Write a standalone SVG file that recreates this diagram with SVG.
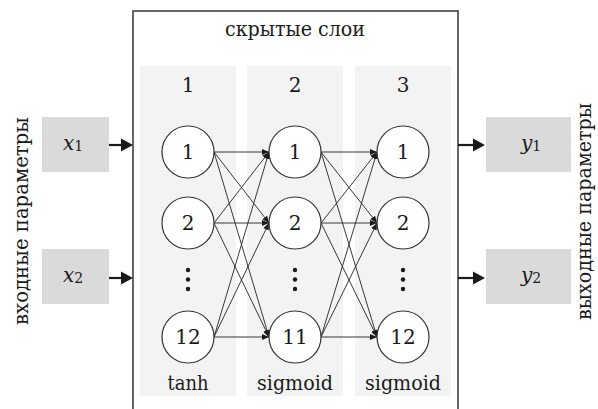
<svg xmlns="http://www.w3.org/2000/svg" width="598" height="409" viewBox="0 0 598 409" font-family="'DejaVu Serif', serif">
<defs>
<style>
text{font-family:'DejaVu Serif',serif;fill:#1a1a1a;}
.t{font-size:20px;text-anchor:middle;}
.lg{font-size:21px;text-anchor:middle;}
.io{fill:#dadada;}
.col{fill:#f3f3f3;}
.node circle{fill:#fff;stroke:#333;stroke-width:1.2;}
.node text{font-size:20px;text-anchor:middle;}
.conn line{stroke:#222;stroke-width:0.9;marker-end:url(#ah);}
.big{stroke:#1a1a1a;stroke-width:2.2;}
.var{font-size:20px;font-style:italic;}
.sub{font-size:14px;font-style:normal;}
</style>
<marker id="ah" markerUnits="userSpaceOnUse" markerWidth="8" markerHeight="6" refX="7" refY="3" orient="auto">
<path d="M0,0 L7,3 L0,6 Z" fill="#1a1a1a"/>
</marker>
</defs>
<rect width="598" height="409" fill="#fff"/>
<g id="hidden-box">
<rect x="133" y="11" width="325" height="410" fill="#fff" stroke="#333" stroke-width="1.5"/>
<text class="lg" x="295" y="36" textLength="140" lengthAdjust="spacingAndGlyphs">скрытые слои</text>
</g>
<g id="layer1">
<rect class="col" x="140" y="66" width="96" height="330"/>
<text class="t" x="188" y="92">1</text>
<text class="t" x="188" y="390" textLength="41" lengthAdjust="spacingAndGlyphs">tanh</text>
</g>
<g id="layer2">
<rect class="col" x="247" y="66" width="96" height="330"/>
<text class="t" x="295" y="92">2</text>
<text class="t" x="295" y="390" textLength="76" lengthAdjust="spacingAndGlyphs">sigmoid</text>
</g>
<g id="layer3">
<rect class="col" x="355" y="66" width="96" height="330"/>
<text class="t" x="403" y="92">3</text>
<text class="t" x="403" y="390" textLength="76" lengthAdjust="spacingAndGlyphs">sigmoid</text>
</g>
<g id="connectors" class="conn">
<line x1="214" y1="152" x2="269" y2="152"/>
<line x1="214" y1="152" x2="269" y2="223"/>
<line x1="214" y1="152" x2="269" y2="337"/>
<line x1="214" y1="223" x2="269" y2="152"/>
<line x1="214" y1="223" x2="269" y2="223"/>
<line x1="214" y1="223" x2="269" y2="337"/>
<line x1="214" y1="337" x2="269" y2="152"/>
<line x1="214" y1="337" x2="269" y2="223"/>
<line x1="214" y1="337" x2="269" y2="337"/>
<line x1="321" y1="152" x2="377" y2="152"/>
<line x1="321" y1="152" x2="377" y2="223"/>
<line x1="321" y1="152" x2="377" y2="337"/>
<line x1="321" y1="223" x2="377" y2="152"/>
<line x1="321" y1="223" x2="377" y2="223"/>
<line x1="321" y1="223" x2="377" y2="337"/>
<line x1="321" y1="337" x2="377" y2="152"/>
<line x1="321" y1="337" x2="377" y2="223"/>
<line x1="321" y1="337" x2="377" y2="337"/>
</g>
<g id="io-arrows">
<line class="big" x1="109" y1="145" x2="122" y2="145"/>
<path d="M121,138.5 L133,145 L121,151.5 Z" fill="#1a1a1a"/>
<line class="big" x1="109" y1="278" x2="122" y2="278"/>
<path d="M121,271.5 L133,278 L121,284.5 Z" fill="#1a1a1a"/>
<line class="big" x1="458" y1="145" x2="474" y2="145"/>
<path d="M473,138.5 L485,145 L473,151.5 Z" fill="#1a1a1a"/>
<line class="big" x1="458" y1="278" x2="474" y2="278"/>
<path d="M473,271.5 L485,278 L473,284.5 Z" fill="#1a1a1a"/>
</g>
<g id="n1-1" class="node"><circle cx="188" cy="152" r="26"/><text x="188" y="159">1</text></g>
<g id="n1-2" class="node"><circle cx="188" cy="223" r="26"/><text x="188" y="230">2</text></g>
<g id="n1-12" class="node"><circle cx="188" cy="337" r="26"/><text x="188" y="344">12</text></g>
<g id="n2-1" class="node"><circle cx="295" cy="152" r="26"/><text x="295" y="159">1</text></g>
<g id="n2-2" class="node"><circle cx="295" cy="223" r="26"/><text x="295" y="230">2</text></g>
<g id="n2-11" class="node"><circle cx="295" cy="337" r="26"/><text x="295" y="344">11</text></g>
<g id="n3-1" class="node"><circle cx="403" cy="152" r="26"/><text x="403" y="159">1</text></g>
<g id="n3-2" class="node"><circle cx="403" cy="223" r="26"/><text x="403" y="230">2</text></g>
<g id="n3-12" class="node"><circle cx="403" cy="337" r="26"/><text x="403" y="344">12</text></g>
<g id="dots" fill="#1a1a1a">
<circle cx="188" cy="270" r="2.2"/><circle cx="188" cy="279.5" r="2.2"/><circle cx="188" cy="289" r="2.2"/>
<circle cx="295" cy="270" r="2.2"/><circle cx="295" cy="279.5" r="2.2"/><circle cx="295" cy="289" r="2.2"/>
<circle cx="403" cy="270" r="2.2"/><circle cx="403" cy="279.5" r="2.2"/><circle cx="403" cy="289" r="2.2"/>
</g>
<g id="x1"><rect class="io" x="42" y="117" width="67" height="55"/><text class="var" x="63" y="150">x<tspan class="sub" dy="1">1</tspan></text></g>
<g id="x2"><rect class="io" x="42" y="249" width="67" height="55"/><text class="var" x="63" y="282">x<tspan class="sub" dy="1">2</tspan></text></g>
<g id="y1"><rect class="io" x="486" y="117" width="85" height="55"/><text class="var" x="521" y="150">y<tspan class="sub" dy="1">1</tspan></text></g>
<g id="y2"><rect class="io" x="486" y="249" width="85" height="55"/><text class="var" x="521" y="282">y<tspan class="sub" dy="1">2</tspan></text></g>
<g id="labels">
<text class="lg" transform="translate(28,221) rotate(-90)" textLength="208" lengthAdjust="spacingAndGlyphs">входные параметры</text>
<text class="lg" transform="translate(591,211.5) rotate(-90)" textLength="217" lengthAdjust="spacingAndGlyphs">выходные параметры</text>
</g>
</svg>
